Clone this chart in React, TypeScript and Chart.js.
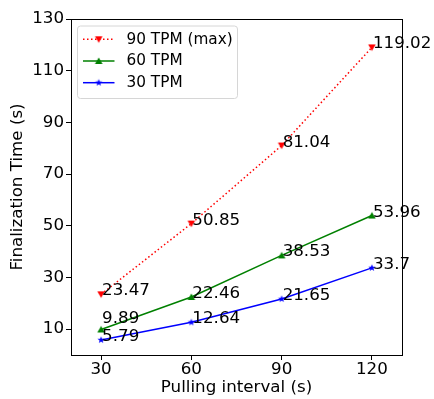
import React, { useEffect, useRef } from "react";
import { Chart, registerables } from "chart.js";

Chart.register(...registerables);

const intervals = [30, 60, 90, 120];
const tpm90 = [23.47, 50.85, 81.04, 119.02];
const tpm60 = [9.89, 22.46, 38.53, 53.96];
const tpm30 = [5.79, 12.64, 21.65, 33.7];
const seriesLabels = ["90 TPM (max)", "60 TPM", "30 TPM"];
const xTicks = [30, 60, 90, 120];
const yTicks = [10, 30, 50, 70, 90, 110, 130];

const FONT = "'DejaVu Sans', 'Liberation Sans', sans-serif";

function makeMarker(kind: string, color: string): HTMLCanvasElement {
  const c = document.createElement("canvas");
  const s = 12;
  c.width = s;
  c.height = s;
  const ctx = c.getContext("2d")!;
  ctx.fillStyle = color;
  ctx.strokeStyle = color;
  ctx.lineWidth = 1;
  const cx = s / 2;
  const cy = s / 2;
  ctx.beginPath();
  if (kind === "down") {
    ctx.moveTo(cx - 3.8, cy - 3);
    ctx.lineTo(cx + 3.8, cy - 3);
    ctx.lineTo(cx, cy + 3.6);
  } else if (kind === "up") {
    ctx.moveTo(cx - 3.8, cy + 3);
    ctx.lineTo(cx + 3.8, cy + 3);
    ctx.lineTo(cx, cy - 3.6);
  } else {
    const R = 3.8;
    const r = 1.6;
    for (let i = 0; i < 10; i++) {
      const rad = i % 2 === 0 ? R : r;
      const a = -Math.PI / 2 + (i * Math.PI) / 5;
      const px = cx + rad * Math.cos(a);
      const py = cy + rad * Math.sin(a);
      if (i === 0) ctx.moveTo(px, py);
      else ctx.lineTo(px, py);
    }
  }
  ctx.closePath();
  ctx.fill();
  return c;
}

export default function App() {
  const ref = useRef<HTMLCanvasElement | null>(null);

  useEffect(() => {
    document.body.style.margin = "0";
    const canvas = ref.current!;
    const mRed = makeMarker("down", "#ff0000");
    const mGreen = makeMarker("up", "#008000");
    const mBlue = makeMarker("star", "#0000ff");
    const markers = [mRed, mGreen, mBlue];

    const frame = {
      id: "frame",
      afterDraw(chart: any) {
        const { ctx, chartArea: a } = chart;
        ctx.save();
        ctx.strokeStyle = "#000";
        ctx.lineWidth = 1;
        ctx.strokeRect(Math.round(a.left) + 0.5, Math.round(a.top) + 0.5, Math.round(a.right - a.left), Math.round(a.bottom - a.top));
        ctx.restore();
      },
    };

    const valueLabels = {
      id: "valueLabels",
      afterDatasetsDraw(chart: any) {
        const { ctx } = chart;
        ctx.save();
        ctx.fillStyle = "#000";
        ctx.font = `16.7px ${FONT}`;
        ctx.textAlign = "left";
        ctx.textBaseline = "alphabetic";
        chart.data.datasets.forEach((ds: any, di: number) => {
          const meta = chart.getDatasetMeta(di);
          meta.data.forEach((pt: any, i: number) => {
            const v = ds.data[i].y;
            const lift = di === 1 && i === 0 ? 7 : 0;
            ctx.fillText(String(v), pt.x + 1, pt.y + 1 - lift);
          });
        });
        ctx.restore();
      },
    };

    const legendBox = {
      id: "legendBox",
      afterDraw(chart: any) {
        const { ctx } = chart;
        const x0 = 77.5, y0 = 26, w = 160, h = 72.5, r = 3;
        ctx.save();
        ctx.beginPath();
        ctx.moveTo(x0 + r, y0);
        ctx.arcTo(x0 + w, y0, x0 + w, y0 + h, r);
        ctx.arcTo(x0 + w, y0 + h, x0, y0 + h, r);
        ctx.arcTo(x0, y0 + h, x0, y0, r);
        ctx.arcTo(x0, y0, x0 + w, y0, r);
        ctx.closePath();
        ctx.fillStyle = "rgba(255,255,255,0.8)";
        ctx.fill();
        ctx.strokeStyle = "#d6d6d6";
        ctx.lineWidth = 1;
        ctx.stroke();
        const rows = [39.3, 61, 82.7];
        chart.data.datasets.forEach((ds: any, di: number) => {
          const y = rows[di];
          ctx.beginPath();
          ctx.strokeStyle = ds.borderColor;
          ctx.lineWidth = 1.5;
          ctx.setLineDash(ds.borderDash || []);
          ctx.moveTo(83, y);
          ctx.lineTo(114.5, y);
          ctx.stroke();
          ctx.setLineDash([]);
          const m = markers[di];
          ctx.drawImage(m, 98.75 - m.width / 2, y - m.height / 2);
          ctx.fillStyle = "#000";
          ctx.font = `15.3px ${FONT}`;
          ctx.textAlign = "left";
          ctx.textBaseline = "middle";
          ctx.fillText(ds.label, 126.5, y + 0.5);
        });
        ctx.restore();
      },
    };

    const toPts = (arr: number[]) => arr.map((v, i) => ({ x: intervals[i], y: v }));

    const chart = new Chart(canvas, {
      type: "line",
      data: {
        datasets: [
          {
            label: seriesLabels[0],
            data: toPts(tpm90),
            borderColor: "#ff0000",
            backgroundColor: "#ff0000",
            borderWidth: 1.5,
            borderDash: [1.5, 2.5],
            pointStyle: mRed,
            tension: 0,
          },
          {
            label: seriesLabels[1],
            data: toPts(tpm60),
            borderColor: "#008000",
            backgroundColor: "#008000",
            borderWidth: 1.5,
            pointStyle: mGreen,
            tension: 0,
          },
          {
            label: seriesLabels[2],
            data: toPts(tpm30),
            borderColor: "#0000ff",
            backgroundColor: "#0000ff",
            borderWidth: 1.5,
            pointStyle: mBlue,
            tension: 0,
          },
        ],
      },
      options: {
        responsive: false,
        animation: false,
        layout: { padding: { left: 0, right: 32, top: 19, bottom: 0 } },
        plugins: { legend: { display: false }, tooltip: { enabled: false } },
        scales: {
          x: {
            type: "linear",
            min: 20,
            max: 130,
            afterBuildTicks: (s: any) => {
              s.ticks = xTicks.map((v) => ({ value: v }));
            },
            afterFit: (s: any) => {
              s.height = 44;
            },
            grid: { drawOnChartArea: false, drawTicks: true, tickLength: 5, color: "#000" },
            border: { display: true, color: "#000" },
            ticks: { color: "#000", font: { family: FONT, size: 16.7 }, padding: 0, maxRotation: 0 },
            title: {
              display: true,
              text: "Pulling interval (s)",
              color: "#000",
              font: { family: FONT, size: 16.7 },
              padding: { top: 0, bottom: 1 },
            },
          },
          y: {
            type: "linear",
            min: 0,
            max: 130,
            afterBuildTicks: (s: any) => {
              s.ticks = yTicks.map((v) => ({ value: v }));
            },
            afterFit: (s: any) => {
              s.width = 71;
            },
            grid: { drawOnChartArea: false, drawTicks: true, tickLength: 5, color: "#000" },
            border: { display: true, color: "#000" },
            ticks: { color: "#000", font: { family: FONT, size: 16.7 }, padding: 2 },
            title: {
              display: true,
              text: "Finalization Time (s)",
              color: "#000",
              font: { family: FONT, size: 16.7 },
              padding: { top: 8, bottom: 0 },
            },
          },
        },
      },
      plugins: [frame, valueLabels, legendBox],
    } as any);

    return () => chart.destroy();
  }, []);

  return (
    <div style={{ position: "fixed", left: 0, top: 0, width: 434, height: 399 }}>
      <canvas ref={ref} width={434} height={399} style={{ width: 434, height: 399, display: "block" }} />
    </div>
  );
}
